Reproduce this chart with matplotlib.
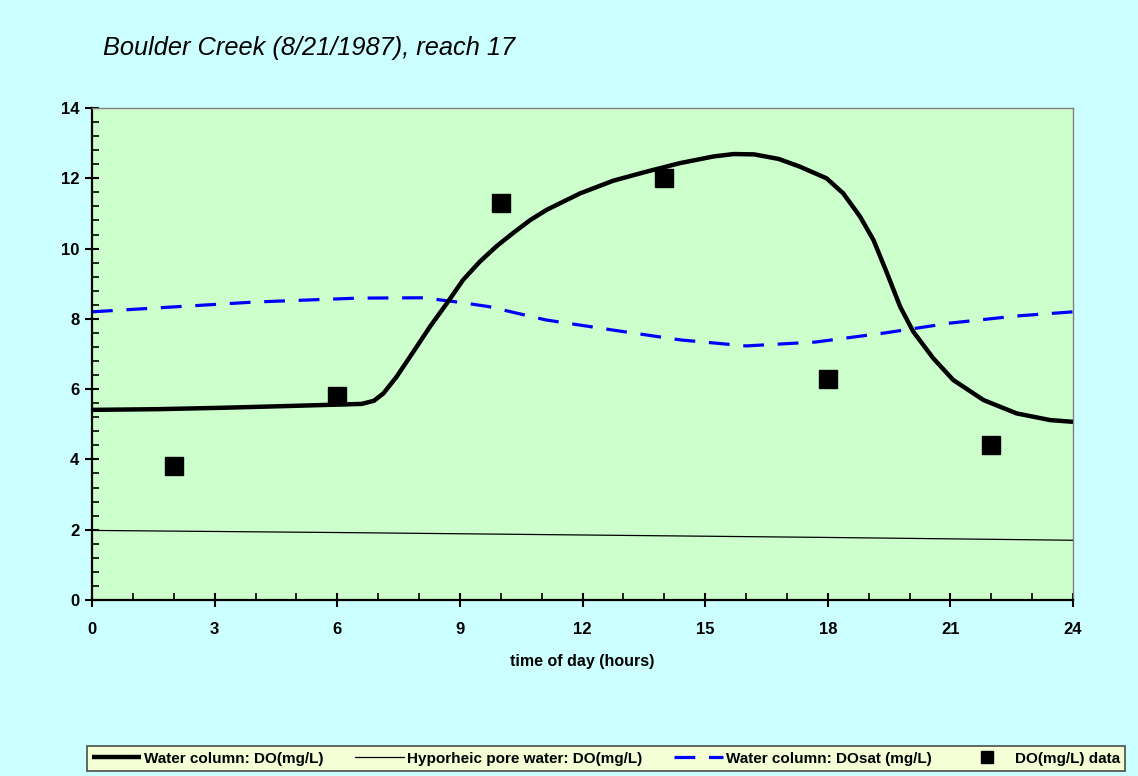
import matplotlib
matplotlib.use("Agg")
import matplotlib.pyplot as plt
from matplotlib.ticker import MultipleLocator

# water column DO model (mg/L)
t_do = [0, 1.6, 3.2, 4.8, 6.0, 6.6, 6.9, 7.13, 7.45, 7.86, 8.27, 8.68, 9.08, 9.49, 9.9,
        10.31, 10.72, 11.12, 11.94, 12.75, 13.57, 14.38, 15.2, 15.7, 16.2, 16.8, 17.32, 17.97,
        18.38, 18.79, 19.12, 19.45, 19.77, 20.09, 20.58, 21.07, 21.81, 22.62, 23.44, 24]
do_wc = [5.41, 5.43, 5.47, 5.52, 5.56, 5.58, 5.67, 5.88, 6.35, 7.06, 7.78, 8.44, 9.11, 9.63, 10.07,
         10.45, 10.81, 11.1, 11.57, 11.93, 12.19, 12.43, 12.62, 12.69, 12.68, 12.55, 12.33, 12.0,
         11.57, 10.91, 10.24, 9.3, 8.35, 7.64, 6.88, 6.26, 5.69, 5.31, 5.12, 5.07]

# hyporheic pore water DO
t_hyp = [0, 6, 12, 18, 24]
do_hyp = [1.98, 1.92, 1.85, 1.78, 1.7]

# water column DO saturation
t_sat = [0, 2, 4, 6.5, 8.1, 9.0, 9.7, 11.1, 12.75, 14.4, 16.0, 17.7, 19.4, 21.0, 22.6, 24]
do_sat = [8.2, 8.34, 8.48, 8.59, 8.6, 8.47, 8.35, 7.97, 7.68, 7.4, 7.23, 7.34, 7.6, 7.88, 8.08, 8.2]

# measured
t_obs = [2, 6, 10, 14, 18, 22]
do_obs = [3.8, 5.8, 11.3, 12.0, 6.3, 4.4]

sans = ['Liberation Sans', 'DejaVu Sans']

fig = plt.figure(figsize=(11.38, 7.76), dpi=100, facecolor='#CCFFFF')
ax = fig.add_axes([92/1138, 1-600/776, (1073-92)/1138, (600-108)/776])
ax.set_facecolor('#CCFFCC')

ax.plot(t_do, do_wc, color='black', lw=3.2, solid_capstyle='butt', solid_joinstyle='round',
        label='Water column: DO(mg/L)', zorder=3)
ax.plot(t_hyp, do_hyp, color='black', lw=0.9, label='Hyporheic pore water: DO(mg/L)', zorder=3)
ax.plot(t_sat, do_sat, color='#0000FF', lw=2.3, dashes=(6.5, 4.3), label='Water column: DOsat (mg/L)', zorder=2)
ax.plot(t_obs, do_obs, 's', color='black', ms=13, label='DO(mg/L) data', zorder=4, clip_on=False)

ax.set_xlim(0, 24)
ax.set_ylim(0, 14)
ax.xaxis.set_major_locator(MultipleLocator(3))
ax.xaxis.set_minor_locator(MultipleLocator(1))
ax.yaxis.set_major_locator(MultipleLocator(2))
ax.yaxis.set_minor_locator(MultipleLocator(0.4))

for s in ['left', 'bottom']:
    ax.spines[s].set_linewidth(1.6)
    ax.spines[s].set_color('black')
for s in ['top', 'right']:
    ax.spines[s].set_linewidth(1.0)
    ax.spines[s].set_color('#808080')

ax.tick_params(which='major', direction='inout', length=10, width=1.5, pad=4)
ax.tick_params(which='minor', direction='in', length=5, width=1.2)
ax.tick_params(axis='x', which='major', pad=11)
for lb in ax.get_xticklabels() + ax.get_yticklabels():
    lb.set_family(sans)
    lb.set_fontweight('bold')
    lb.set_fontsize(12)

ax.set_xlabel('time of day (hours)', family=sans, fontweight='bold', fontsize=11.5, labelpad=12)

fig.text(103/1138, 1-48/776, 'Boulder Creek (8/21/1987), reach 17', fontsize=18.3, style='italic',
         family=sans, va='center', ha='left')

leg = fig.legend(loc='lower left', bbox_to_anchor=(87/1138, 1-771/776), ncol=4, frameon=True,
                 prop={'family': sans, 'weight': 'bold', 'size': 11},
                 handlelength=3.2, handletextpad=0.2, columnspacing=2.05,
                 borderpad=0.35, borderaxespad=0, fancybox=False, markerscale=0.7)
leg.get_frame().set_facecolor('#FFFFCC')
leg.get_frame().set_edgecolor('#222222')
leg.get_frame().set_linewidth(1.2)

fig.savefig('out.png', dpi=100, facecolor=fig.get_facecolor())
